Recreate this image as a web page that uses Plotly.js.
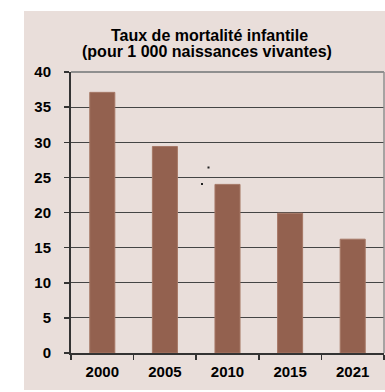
<!DOCTYPE html>
<html>
<head>
<meta charset="utf-8">
<script src="https://cdn.plot.ly/plotly-3.0.1.min.js"></script>
<style>html,body{margin:0;padding:0;background:#fff;}#chart{width:385px;height:392px;}</style>
</head>
<body>
<div id="chart"></div>
<script>
const years = ["2000", "2005", "2010", "2015", "2021"];
const rates = [37.1, 29.4, 24.0, 19.9, 16.2];
const yTicks = [0, 5, 10, 15, 20, 25, 30, 35, 40];
const titleLine1 = "Taux de mortalité infantile";
const titleLine2 = "(pour 1 000 naissances vivantes)";

const W = 385, H = 392;
const M = {l: 71, r: 1, t: 72, b: 39};
const pw = W - M.l - M.r, ph = H - M.t - M.b;
const px = x => (x - M.l) / pw;
const py = y => (H - M.b - y) / ph;

const bg = '#E9DEDA';
const font = 'Liberation Sans, Arial, sans-serif';
const b = s => '<b>' + s + '</b>';

const trace = {
  type: 'bar',
  x: years,
  y: rates,
  marker: {color: '#93614F', line: {color: '#A67866', width: 1}},
  width: 0.4,
  hoverinfo: 'skip'
};

const dot = (cx, cy) => ({
  type: 'rect', xref: 'paper', yref: 'paper',
  x0: px(cx - 1), x1: px(cx + 1), y0: py(cy + 1), y1: py(cy - 1),
  fillcolor: '#222', line: {width: 0}
});

const layout = {
  width: W, height: H,
  margin: M,
  paper_bgcolor: '#ffffff',
  plot_bgcolor: bg,
  showlegend: false,
  font: {family: font, color: '#000'},
  xaxis: {
    type: 'category',
    tickvals: years,
    ticktext: years.map(b),
    showline: true, linecolor: '#333', linewidth: 2,
    ticks: 'outside', tickson: 'boundaries', ticklen: 5, tickcolor: '#333', tickwidth: 1.5,
    tickfont: {family: font, size: 15, color: '#000'},
    ticklabelstandoff: 4,
    showgrid: false,
    fixedrange: true
  },
  yaxis: {
    range: [0, 40],
    tickvals: yTicks,
    ticktext: yTicks.map(v => b(String(v))),
    showline: true, linecolor: '#333', linewidth: 2,
    ticks: 'outside', ticklen: 5, tickcolor: '#333', tickwidth: 1.5,
    tickfont: {family: font, size: 15, color: '#000'},
    ticklabelstandoff: 10,
    showgrid: true, gridcolor: '#444', gridwidth: 1.2,
    zeroline: false,
    fixedrange: true
  },
  shapes: [
    {type: 'rect', xref: 'paper', yref: 'paper', layer: 'below',
     x0: px(24), x1: px(386), y0: py(390), y1: py(11),
     fillcolor: bg, line: {width: 0}},
    {type: 'line', xref: 'paper', yref: 'paper', x0: 0, x1: 1, y0: 1, y1: 1,
     line: {color: '#8f8f8f', width: 2}},
    {type: 'line', xref: 'paper', yref: 'paper', x0: 1, x1: 1, y0: 0, y1: 1,
     line: {color: '#8f8f8f', width: 1.5}},
    dot(208.5, 167.5),
    dot(202, 184)
  ],
  annotations: [
    {text: b(titleLine1), xref: 'paper', yref: 'paper', x: px(209), y: py(35.5), xanchor: 'center', yanchor: 'middle',
     showarrow: false, font: {family: font, size: 16, color: '#000'}},
    {text: b(titleLine2), xref: 'paper', yref: 'paper', x: px(207), y: py(51.5), xanchor: 'center', yanchor: 'middle',
     showarrow: false, font: {family: font, size: 16, color: '#000'}}
  ]
};

Plotly.newPlot('chart', [trace], layout, {displayModeBar: false, staticPlot: true});
</script>
</body>
</html>
